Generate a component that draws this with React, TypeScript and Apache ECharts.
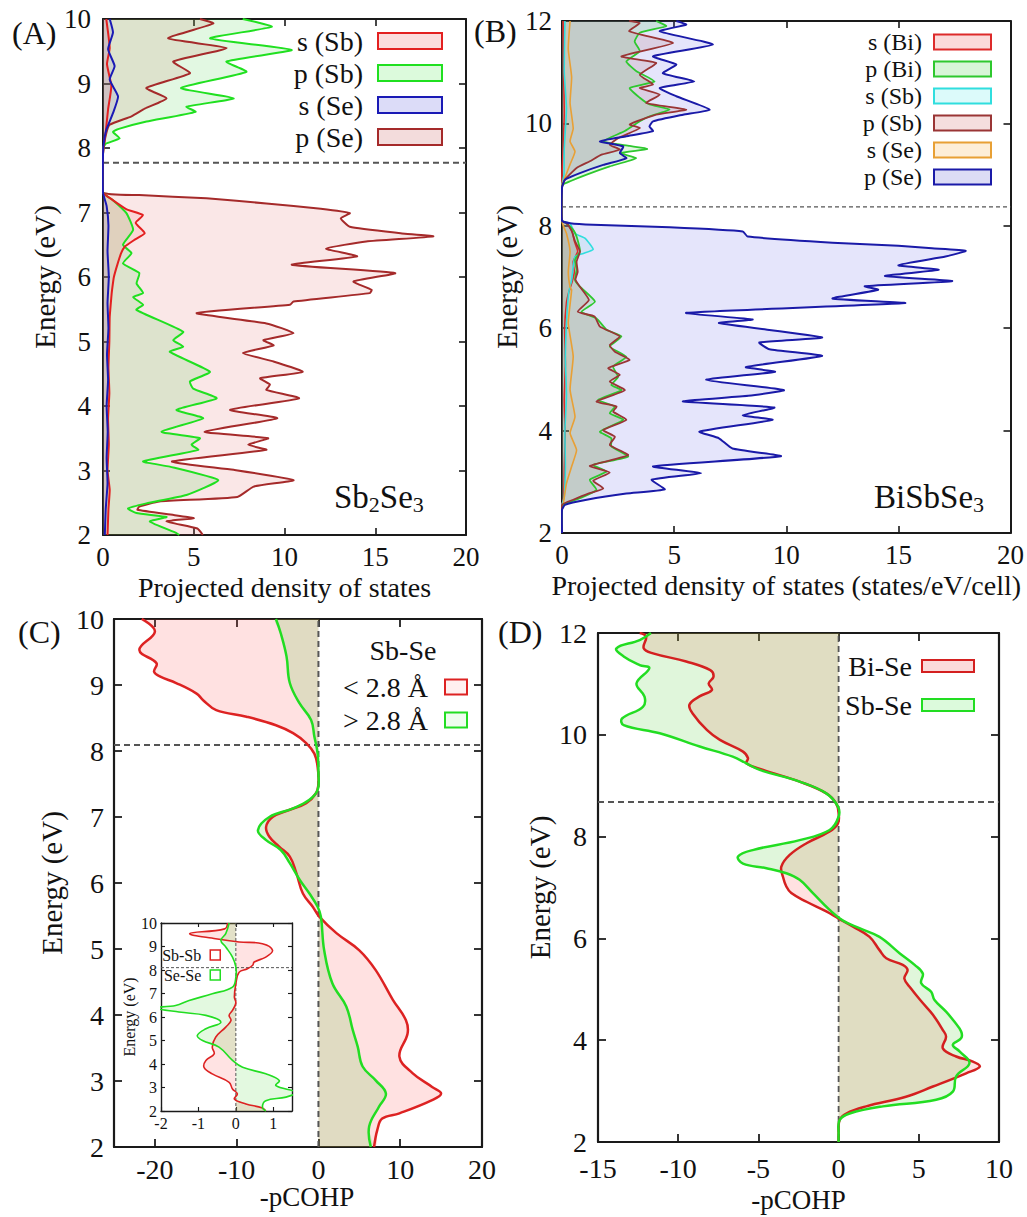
import React, { useEffect, useRef } from 'react';
import * as echarts from 'echarts';

const FONT = "'Liberation Serif', 'Times New Roman', serif";

type Pt = [number, number];

// ---------- Panel A : Sb2Se3 PDOS  [dos, energy] ----------
const A_sSb: Pt[] = [[0.18,10],[0.37,9.55],[0.22,9.3],[0.46,8.96],[0.28,8.6],[0.15,8.25],[0.04,8.02],[0,7.9],[0,7.31],[0.5,7.2],[1.3,7.05],[2.2,6.96],[1.8,6.84],[2.3,6.68],[1.7,6.57],[1.2,6.47],[1.0,6.37],[0.8,6.2],[0.6,6.0],[0.5,5.8],[0.46,5.69],[0.37,5.38],[0.35,5.0],[0.3,4.6],[0.35,4.2],[0.28,3.8],[0.32,3.4],[0.25,3.0],[0.37,2.7],[0.3,2.4],[0.25,2.0]];
const A_pSb: Pt[] = [[7.7,10],[9.3,9.88],[5.9,9.7],[10.4,9.52],[6.8,9.34],[7.9,9.18],[4.3,8.93],[7.2,8.77],[4.6,8.64],[5.1,8.56],[2.4,8.41],[0.92,8.3],[0.55,8.25],[0.92,8.15],[0.18,8.07],[0.04,8.02],[0,7.9],[0,7.31],[0.55,7.19],[1.29,6.99],[1.66,6.73],[1.1,6.5],[1.57,6.37],[1.1,6.21],[2.0,6.06],[1.85,5.9],[2.21,5.75],[1.66,5.69],[2.21,5.57],[1.84,5.49],[4.42,5.15],[3.87,5.02],[4.42,4.92],[3.68,4.84],[5.89,4.53],[4.79,4.38],[4.97,4.27],[6.26,4.12],[4.05,3.94],[5.52,3.81],[3.22,3.6],[5.34,3.5],[4.88,3.4],[5.25,3.32],[2.21,3.14],[3.68,3.06],[6.35,2.85],[4.6,2.62],[2.39,2.49],[1.38,2.41],[1.84,2.34],[3.5,2.28],[2.58,2.21],[4.05,2.03],[4.2,2.0]];
const A_sSe: Pt[] = [[0.37,10],[0.55,9.79],[0.28,9.53],[0.64,9.27],[0.37,9.06],[0.83,8.8],[0.55,8.54],[0.18,8.28],[0.04,8.07],[0,7.9],[0,7.31],[0.2,7.1],[0.3,6.8],[0.25,6.4],[0.32,6.0],[0.25,5.6],[0.3,5.2],[0.22,4.8],[0.28,4.4],[0.2,4.0],[0.26,3.6],[0.2,3.2],[0.25,2.8],[0.15,2.4],[0.1,2.0]];
const A_pSe: Pt[] = [[5.34,10],[6.08,9.93],[3.59,9.7],[6.81,9.55],[3.87,9.34],[4.79,9.16],[2.39,8.93],[3.5,8.77],[2.3,8.61],[1.57,8.49],[0.37,8.36],[0.18,8.23],[0.04,8.02],[0,7.9],[0,7.31],[2.0,7.27],[5.7,7.22],[9.0,7.14],[12.0,7.06],[13.6,6.99],[13.1,6.91],[13.6,6.78],[16.4,6.68],[18.2,6.63],[14.5,6.55],[12.3,6.44],[14.0,6.32],[10.4,6.19],[16.1,6.06],[13.8,5.93],[14.8,5.8],[14.7,5.75],[10.5,5.62],[10.3,5.57],[5.16,5.44],[9.0,5.28],[10.5,5.13],[8.84,5.02],[9.4,4.94],[7.7,4.82],[9.4,4.69],[11.0,4.53],[8.66,4.43],[9.2,4.33],[9.0,4.25],[10.8,4.12],[7.0,3.94],[9.6,3.81],[5.6,3.6],[9.1,3.5],[8.0,3.4],[9.0,3.32],[3.8,3.14],[7.2,3.01],[10.5,2.85],[8.3,2.75],[7.4,2.59],[3.1,2.52],[2.0,2.44],[1.9,2.39],[3.9,2.31],[5.0,2.26],[3.5,2.21],[5.2,2.1],[5.5,2.0]];
const FERMI_A = 7.77;

// ---------- Panel B : BiSbSe3 PDOS ----------
const B_sBi: Pt[] = [[0.05,12],[0.08,10.8],[0.1,10.2],[0.05,9.5],[0,9.0],[0,8.1],[0.2,8.05],[0.45,7.9],[0.55,7.7],[0.7,7.5],[0.5,7.3],[0.55,7.1],[0.45,6.9],[0.3,6.7],[0.2,6.5],[0.12,6.0],[0.15,5.3],[0.1,4.6],[0.14,3.9],[0.1,3.2],[0.08,2.7],[0,2.55],[0,2.0]];
const B_pBi: Pt[] = [[4.2,12],[4.65,11.9],[3.47,11.77],[3.24,11.6],[3.47,11.41],[2.87,11.21],[3.32,11.02],[4.13,10.82],[3.02,10.69],[3.47,10.5],[3.91,10.37],[4.8,10.27],[3.91,10.14],[3.47,10.04],[2.8,9.85],[1.84,9.65],[3.02,9.56],[3.8,9.5],[2.6,9.42],[3.3,9.32],[2.13,9.16],[1.1,9.0],[0.36,8.87],[0.03,8.8],[0,8.7],[0,8.1],[0.2,8.05],[0.5,7.92],[0.65,7.79],[0.8,7.5],[0.58,7.33],[0.65,7.14],[0.58,6.94],[0.8,6.81],[1.47,6.52],[0.87,6.32],[1.54,6.19],[1.99,5.97],[2.65,5.84],[2.13,5.64],[2.87,5.44],[2.28,5.25],[2.5,5.05],[2.2,4.89],[2.65,4.79],[1.61,4.6],[2.36,4.47],[2.13,4.34],[2.73,4.21],[1.69,3.98],[2.2,3.85],[2.2,3.69],[2.95,3.49],[1.39,3.33],[1.99,3.2],[1.24,3.04],[1.54,2.84],[0.8,2.68],[0.06,2.55],[0,2.45],[0,2.0]];
const B_sSb: Pt[] = [[0.13,12],[0.1,11],[0.2,10.3],[0.1,9.5],[0.09,9.0],[0,8.8],[0,8.1],[0.36,8.05],[0.58,7.85],[1.02,7.76],[1.39,7.54],[0.95,7.46],[0.58,7.4],[0.5,7.2],[0.43,6.94],[0.3,6.7],[0.2,6.1],[0.15,5.4],[0.2,4.7],[0.13,4.0],[0.15,3.3],[0.1,2.7],[0,2.55],[0,2.0]];
const B_pSb: Pt[] = [[3.0,12],[3.47,11.96],[3.0,11.8],[4.95,11.57],[2.65,11.31],[4.2,11.18],[3.47,10.95],[4.06,10.76],[3.47,10.69],[4.36,10.56],[3.76,10.4],[5.54,10.27],[4.2,10.17],[3.02,9.98],[3.47,9.91],[2.5,9.71],[2.13,9.58],[2.58,9.49],[1.76,9.39],[1.24,9.26],[0.65,9.13],[0.13,8.9],[0,8.75],[0,8.1],[0.2,8.05],[0.43,7.9],[0.58,7.7],[0.8,7.5],[0.65,7.3],[0.7,7.1],[0.6,6.95],[0.8,6.81],[1.2,6.55],[0.7,6.32],[1.45,6.23],[1.69,6.03],[2.58,5.84],[2.13,5.67],[2.36,5.54],[3.02,5.38],[2.06,5.22],[2.58,5.09],[2.13,4.96],[2.8,4.79],[1.54,4.57],[2.43,4.47],[2.28,4.37],[2.87,4.21],[1.84,4.01],[2.36,3.88],[2.13,3.72],[2.95,3.52],[1.24,3.31],[2.13,3.18],[1.39,3.02],[1.84,2.87],[1.17,2.77],[0.5,2.65],[0,2.55],[0,2.0]];
const B_sSe: Pt[] = [[0.36,12],[0.28,11.45],[0.43,10.9],[0.36,10.4],[0.5,9.9],[0.36,9.65],[0.58,9.45],[0.36,9.2],[0.13,8.94],[0,8.8],[0,8.1],[0.06,8.0],[0.2,7.85],[0.36,7.5],[0.28,7.1],[0.36,6.8],[0.43,6.75],[0.28,6.1],[0.5,5.45],[0.36,4.8],[0.58,4.27],[0.36,3.95],[0.65,3.62],[0.43,3.3],[0.2,2.97],[0.06,2.58],[0,2.45],[0,2.0]];
const B_pSe: Pt[] = [[5.1,12],[5.54,11.93],[4.36,11.8],[6.73,11.54],[4.06,11.31],[5.1,11.15],[4.5,10.98],[5.9,10.82],[4.36,10.69],[5.1,10.53],[6.58,10.27],[5.4,10.17],[4.06,10.04],[3.9,9.94],[4.06,9.85],[2.87,9.75],[1.69,9.65],[2.73,9.55],[2.58,9.42],[2.87,9.32],[1.84,9.19],[0.8,9.03],[0.13,8.9],[0,8.74],[0,8.1],[0.36,8.05],[1.39,8.02],[4.8,7.97],[8.06,7.89],[8.28,7.79],[12.06,7.67],[15.0,7.61],[16.5,7.56],[18.0,7.51],[17.1,7.4],[15.0,7.23],[16.8,7.14],[14.4,7.02],[17.4,6.92],[13.5,6.82],[14.1,6.75],[12.06,6.58],[15.3,6.49],[5.54,6.3],[8.5,6.17],[7.0,6.1],[11.6,5.82],[8.8,5.72],[9.25,5.59],[11.6,5.46],[8.2,5.24],[9.5,5.15],[6.43,4.99],[9.9,4.79],[8.3,4.68],[5.39,4.57],[9.47,4.45],[8.06,4.3],[9.39,4.21],[6.13,3.98],[7.0,3.85],[7.6,3.65],[9.76,3.5],[4.06,3.3],[6.2,3.17],[4.0,3.04],[4.58,2.85],[2.87,2.77],[1.1,2.65],[0.13,2.55],[0,2.45],[0,2.0]];
const FERMI_B = 8.37;

// ---------- Panel C : Sb-Se pCOHP  [-pCOHP, energy] ----------
const C_lt: Pt[] = [[-21.6,10],[-20.0,9.81],[-21.9,9.53],[-19.8,9.33],[-20.1,9.2],[-19.4,9.13],[-17.4,9.03],[-14.9,8.87],[-14.1,8.77],[-12.5,8.62],[-8.8,8.52],[-5.2,8.39],[-3.1,8.27],[-1.5,8.12],[-0.5,7.96],[-0.1,7.76],[0,7.51],[-0.3,7.36],[-1.5,7.21],[-3.5,7.11],[-5.6,7.0],[-6.4,6.85],[-6.0,6.7],[-4.8,6.55],[-3.5,6.4],[-2.7,6.15],[-1.9,5.84],[-0.7,5.64],[0.1,5.49],[2.2,5.24],[5.0,4.98],[7.0,4.68],[9.1,4.23],[10.7,3.92],[10.9,3.72],[9.9,3.37],[11.5,3.12],[13.9,2.91],[15.0,2.81],[13.9,2.71],[9.9,2.51],[7.8,2.43],[7.2,2.26],[6.8,2.0]];
const C_gt: Pt[] = [[-5.2,10],[-4.6,9.78],[-3.9,9.43],[-3.5,9.03],[-2.3,8.72],[-0.9,8.47],[-0.5,8.22],[-0.1,7.96],[0,7.66],[-0.1,7.41],[-1.1,7.26],[-3.1,7.13],[-6.0,7.0],[-7.4,6.8],[-6.4,6.65],[-4.6,6.5],[-3.5,6.3],[-2.3,6.05],[-1.1,5.84],[-0.1,5.64],[0.3,5.49],[0.7,4.98],[1.7,4.48],[3.4,4.13],[4.2,3.77],[4.8,3.52],[5.4,3.22],[7.0,3.01],[8.25,2.81],[7.4,2.61],[6.2,2.31],[6.4,2.0]];
const FERMI_C = 8.09;

// ---------- Inset of C ----------
const I_SbSb: Pt[] = [[-0.22,10],[-0.3,9.75],[-1.23,9.55],[-0.54,9.33],[0.09,9.19],[0.71,9.12],[0.98,8.84],[0.8,8.55],[0.49,8.34],[0.45,8.2],[0.31,8.05],[0.09,7.91],[0,7.41],[-0.04,6.85],[0,6.6],[-0.09,6.28],[-0.18,6.07],[-0.13,5.85],[-0.27,5.57],[-0.54,5.14],[-0.63,4.72],[-0.58,4.43],[-0.8,4.15],[-0.85,3.86],[-0.63,3.58],[-0.18,3.22],[-0.09,2.94],[0.04,2.73],[-0.04,2.51],[0.27,2.3],[0.71,2.13],[0.8,2.0]];
const I_SeSe: Pt[] = [[-0.18,10],[-0.27,9.55],[-0.4,9.26],[-0.27,8.98],[-0.09,8.55],[0,8.13],[0,7.7],[-0.09,7.27],[-0.63,6.99],[-1.25,6.7],[-1.61,6.49],[-2.15,6.39],[-1.52,6.21],[-0.8,6.07],[-0.4,5.78],[-0.8,5.5],[-1.03,5.21],[-0.89,5.0],[-0.45,4.72],[-0.09,4.15],[0.18,3.86],[0.8,3.58],[1.16,3.3],[1.07,3.08],[1.6,2.8],[1.34,2.59],[0.8,2.44],[0.71,2.16],[0.8,2.0]];
const FERMI_I = 8.1;

// ---------- Panel D : BiSbSe3 pCOHP ----------
const D_BiSe: Pt[] = [[-12.4,12],[-12.0,11.93],[-12.15,11.7],[-11.57,11.6],[-9.5,11.44],[-8.0,11.27],[-7.8,11.14],[-8.1,11.01],[-7.9,10.88],[-8.7,10.75],[-9.3,10.59],[-9.1,10.42],[-8.2,10.09],[-7.4,9.9],[-5.96,9.67],[-5.65,9.54],[-5.75,9.44],[-4.7,9.31],[-2.43,9.08],[-0.77,8.85],[-0.15,8.65],[0,8.46],[-0.04,8.26],[-0.56,8.1],[-2.0,7.87],[-3.05,7.64],[-3.57,7.41],[-3.47,7.21],[-3.26,7.02],[-2.95,6.89],[-2.0,6.72],[-0.77,6.53],[0,6.39],[0.9,6.23],[1.93,6.03],[2.55,5.77],[2.97,5.61],[4.0,5.48],[4.3,5.38],[4.1,5.21],[4.5,5.02],[5.25,4.73],[5.88,4.5],[6.5,4.2],[6.7,4.07],[6.5,3.84],[7.33,3.68],[8.37,3.58],[8.8,3.48],[7.95,3.35],[5.88,3.09],[4.2,2.89],[1.72,2.7],[0.48,2.56],[0.06,2.43],[0,2.17],[0,2.0]];
const D_SbSe: Pt[] = [[-11.7,12],[-12.4,11.86],[-13.85,11.7],[-13.4,11.54],[-12.4,11.37],[-11.8,11.31],[-12.6,11.01],[-12.1,10.75],[-12.2,10.55],[-13.5,10.32],[-13.4,10.19],[-11.15,10.03],[-8.66,9.77],[-6.6,9.57],[-5.75,9.44],[-4.92,9.31],[-2.43,9.08],[-0.77,8.85],[-0.04,8.59],[0,8.39],[-0.56,8.13],[-2.43,7.93],[-5.3,7.74],[-6.27,7.61],[-5.96,7.47],[-4.5,7.38],[-3.26,7.28],[-2.43,7.15],[-1.6,6.89],[-0.56,6.56],[0.27,6.35],[1.3,6.2],[2.55,6.03],[3.8,5.71],[4.74,5.48],[5.25,5.31],[5.15,5.12],[5.77,4.95],[5.98,4.79],[6.7,4.56],[7.2,4.37],[7.64,4.17],[7.64,4.04],[7.12,3.91],[7.54,3.78],[8.16,3.55],[7.33,3.29],[7.12,2.99],[6.08,2.83],[2.76,2.7],[0.69,2.56],[0.06,2.43],[0,2.17],[0,2.0]];
const FERMI_D = 8.68;

// ---------- tick values ----------
const C_X_TICKS = [-20, -10, 0, 10, 20];
const I_X_TICKS = [-2, -1, 0, 1];

const legendName = (n: string) => n.split('|')[1];

function fillSeries(name: string, data: Pt[], gi: number, fill: string, smooth: number) {
  return {
    type: 'custom',
    name: name + ' fill',
    xAxisIndex: gi * 2,
    yAxisIndex: gi * 2,
    z: 2,
    silent: true,
    data: [[0, 0]],
    renderItem: (params: any, api: any) => {
      const cs = params.coordSys;
      const pts = data.map((p) => api.coord(p));
      const top = api.coord([0, data[0][1]]);
      const bot = api.coord([0, data[data.length - 1][1]]);
      const h = bot[1] - top[1];
      const botE = [bot[0], bot[1] - h * 0.01];
      const topE = [top[0], top[1] + h * 0.01];
      return {
        type: 'group',
        clipPath: { type: 'rect', shape: { x: cs.x, y: cs.y, width: cs.width, height: cs.height } },
        children: [
          { type: 'polygon', shape: { points: [top, ...pts, bot, botE, topE], smooth }, style: { fill, stroke: 'none' } },
        ],
      };
    },
  };
}

function strokeSeries(name: string, data: Pt[], gi: number, color: string, width: number, smooth: number) {
  return {
    type: 'custom',
    name,
    xAxisIndex: gi * 2,
    yAxisIndex: gi * 2,
    z: 4,
    silent: true,
    itemStyle: { color },
    data: [[0, 0]],
    renderItem: (params: any, api: any) => {
      const cs = params.coordSys;
      const pts = data.map((p) => api.coord(p));
      return {
        type: 'group',
        clipPath: { type: 'rect', shape: { x: cs.x - 1, y: cs.y - 1, width: cs.width + 2, height: cs.height + 2 } },
        children: [
          { type: 'polyline', shape: { points: pts, smooth }, style: { stroke: color, lineWidth: width, fill: 'none', lineJoin: 'round' } },
        ],
      };
    },
  };
}

function dashSeries(data: Pt[], gi: number, width: number, dash: number[]) {
  return {
    type: 'line',
    xAxisIndex: gi * 2,
    yAxisIndex: gi * 2,
    data,
    symbol: 'none',
    silent: true,
    z: 3,
    lineStyle: { color: '#555', width, type: dash },
  };
}

function axisSet(gi: number, o: any) {
  const line = { show: true, onZero: false, lineStyle: { color: '#1a1a1a', width: o.lw } };
  const tick = { show: true, inside: true, length: o.tl, lineStyle: { color: '#1a1a1a', width: o.lw * 0.8 } };
  const xTick: any = { ...tick };
  const xLabel: any = { fontFamily: FONT, fontSize: o.fs, color: '#111', margin: o.xm };
  if (o.xCustom) {
    xTick.customValues = o.xCustom;
    xLabel.customValues = o.xCustom;
  }
  const xb = {
    type: 'value', gridIndex: gi, position: 'bottom', min: o.xmin, max: o.xmax, interval: o.xi,
    axisLine: line, axisTick: xTick, axisLabel: xLabel, splitLine: { show: false },
    name: o.xName, nameLocation: 'middle', nameGap: o.xng,
    nameTextStyle: { fontFamily: FONT, fontSize: o.nfs, color: '#111', padding: o.xnp || 0 },
  };
  const xt = {
    type: 'value', gridIndex: gi, position: 'top', min: o.xmin, max: o.xmax, interval: o.xi,
    axisLine: line, axisTick: xTick, axisLabel: { show: false }, splitLine: { show: false },
  };
  const yl = {
    type: 'value', gridIndex: gi, position: 'left', min: o.ymin, max: o.ymax, interval: o.yi,
    axisLine: line, axisTick: tick,
    axisLabel: { fontFamily: FONT, fontSize: o.fs, color: '#111', margin: o.ym },
    splitLine: { show: false },
    name: o.yName, nameLocation: 'middle', nameGap: o.yng,
    nameTextStyle: { fontFamily: FONT, fontSize: o.ynfs || o.nfs, color: '#111' },
  };
  const yr = {
    type: 'value', gridIndex: gi, position: 'right', min: o.ymin, max: o.ymax, interval: o.yi,
    axisLine: line, axisTick: tick, axisLabel: { show: false }, splitLine: { show: false },
  };
  return { x: [xb, xt], y: [yl, yr] };
}

function legendItem(name: string, fill: string, border: string, bw = 2) {
  return { name, itemStyle: { color: fill, borderColor: border, borderWidth: bw } };
}

export default function App() {
  const ref = useRef<HTMLDivElement>(null);

  useEffect(() => {
    if (!ref.current) return;
    const chart = echarts.init(ref.current, undefined, { renderer: 'svg' });

    const aA = axisSet(0, { xmin: 0, xmax: 20, xi: 5, ymin: 2, ymax: 10, yi: 1, fs: 27, nfs: 28, ynfs: 29, lw: 2, tl: 7, xm: 8, ym: 12, xName: 'Projected density of states', xng: 38, yName: 'Energy (eV)', yng: 44 });
    const aB = axisSet(1, { xmin: 0, xmax: 20, xi: 5, ymin: 2, ymax: 12, yi: 2, fs: 27, nfs: 28, ynfs: 29, lw: 2, tl: 7, xm: 8, ym: 10, xName: 'Projected density of states (states/eV/cell)', xng: 38, yName: 'Energy (eV)', yng: 36 });
    const aC = axisSet(2, { xmin: -25, xmax: 20, xi: 5, xCustom: C_X_TICKS, ymin: 2, ymax: 10, yi: 1, fs: 28, nfs: 27, ynfs: 29, lw: 2.2, tl: 8, xm: 8, ym: 10, xName: '-pCOHP', xng: 36, xnp: [0, 0, 0, 18], yName: 'Energy (eV)', yng: 48 });
    const aD = axisSet(3, { xmin: -15, xmax: 10, xi: 5, ymin: 2, ymax: 12, yi: 2, fs: 28, nfs: 27, ynfs: 29, lw: 2.2, tl: 8, xm: 12, ym: 11, xName: '-pCOHP', xng: 44, yName: 'Energy (eV)', yng: 44 });
    const aI = axisSet(4, { xmin: -2, xmax: 1.5, xi: 0.5, xCustom: I_X_TICKS, ymin: 2, ymax: 10, yi: 1, fs: 16, nfs: 16, lw: 1.4, tl: 4, xm: 4, ym: 4, xName: '', xng: 20, yName: 'Energy (eV)', yng: 19 });

    const xAxis = [...aA.x, ...aB.x, ...aC.x, ...aD.x, ...aI.x];
    const yAxis = [...aA.y, ...aB.y, ...aC.y, ...aD.y, ...aI.y];

    const A = {
      sSb: { n: 'A|s (Sb)', c: '#e32020', f: 'rgba(255,60,60,0.10)', lf: '#fbdcdc' },
      pSb: { n: 'A|p (Sb)', c: '#20e020', f: 'rgba(60,210,60,0.15)', lf: '#dcfadc' },
      sSe: { n: 'A|s (Se)', c: '#1a1ab5', f: 'rgba(60,60,230,0.10)', lf: '#dcdcf8' },
      pSe: { n: 'A|p (Se)', c: '#a52a2a', f: 'rgba(215,70,70,0.13)', lf: '#f3dcdc' },
    };
    const B = {
      sBi: { n: 'B|s (Bi)', c: '#dd2a2a', f: 'rgba(230,60,60,0.08)', lf: '#fbdada' },
      pBi: { n: 'B|p (Bi)', c: '#2ec82e', f: 'rgba(60,190,60,0.15)', lf: '#d8f5d8' },
      sSb: { n: 'B|s (Sb)', c: '#30dede', f: 'rgba(60,220,220,0.10)', lf: '#dcfafa' },
      pSb: { n: 'B|p (Sb)', c: '#9a3535', f: 'rgba(150,50,50,0.12)', lf: '#f5dede' },
      sSe: { n: 'B|s (Se)', c: '#e8a035', f: 'rgba(240,170,60,0.10)', lf: '#fdeed8' },
      pSe: { n: 'B|p (Se)', c: '#1a1aa8', f: 'rgba(80,80,230,0.15)', lf: '#dcdcf5' },
    };

    const sA = 0.15, sB = 0.15, sC = 0.4;

    const series: any[] = [
      // Panel A
      fillSeries(A.pSe.n, A_pSe, 0, A.pSe.f, sA),
      fillSeries(A.pSb.n, A_pSb, 0, A.pSb.f, sA),
      fillSeries(A.sSb.n, A_sSb, 0, A.sSb.f, sA),
      fillSeries(A.sSe.n, A_sSe, 0, A.sSe.f, sA),
      dashSeries([[0, FERMI_A], [20, FERMI_A]], 0, 2, [6, 4]),
      strokeSeries(A.pSe.n, A_pSe, 0, A.pSe.c, 2, sA),
      strokeSeries(A.pSb.n, A_pSb, 0, A.pSb.c, 2, sA),
      strokeSeries(A.sSb.n, A_sSb, 0, A.sSb.c, 2, sA),
      strokeSeries(A.sSe.n, A_sSe, 0, A.sSe.c, 2, sA),
      // Panel B
      fillSeries(B.pSe.n, B_pSe, 1, B.pSe.f, sB),
      fillSeries(B.pSb.n, B_pSb, 1, B.pSb.f, sB),
      fillSeries(B.pBi.n, B_pBi, 1, B.pBi.f, sB),
      fillSeries(B.sSe.n, B_sSe, 1, B.sSe.f, sB),
      fillSeries(B.sSb.n, B_sSb, 1, B.sSb.f, sB),
      fillSeries(B.sBi.n, B_sBi, 1, B.sBi.f, sB),
      dashSeries([[0, FERMI_B], [20, FERMI_B]], 1, 1.2, [4, 3]),
      strokeSeries(B.sBi.n, B_sBi, 1, B.sBi.c, 1.6, sB),
      strokeSeries(B.sSb.n, B_sSb, 1, B.sSb.c, 1.6, sB),
      strokeSeries(B.sSe.n, B_sSe, 1, B.sSe.c, 1.6, sB),
      strokeSeries(B.pBi.n, B_pBi, 1, B.pBi.c, 1.8, sB),
      strokeSeries(B.pSb.n, B_pSb, 1, B.pSb.c, 1.8, sB),
      strokeSeries(B.pSe.n, B_pSe, 1, B.pSe.c, 2, sB),
      // Panel C
      fillSeries('C|< 2.8 Å', C_lt, 2, 'rgba(255,80,80,0.17)', sC),
      fillSeries('C|> 2.8 Å', C_gt, 2, 'rgba(70,190,40,0.17)', sC),
      dashSeries([[-25, FERMI_C], [20, FERMI_C]], 2, 2, [6, 4]),
      dashSeries([[0, 2], [0, 10]], 2, 2, [6, 4]),
      strokeSeries('C|< 2.8 Å', C_lt, 2, '#dd2222', 2.5, sC),
      strokeSeries('C|> 2.8 Å', C_gt, 2, '#22dd22', 2.5, sC),
      // Panel D
      fillSeries('D|Bi-Se', D_BiSe, 3, 'rgba(255,80,80,0.17)', sC),
      fillSeries('D|Sb-Se', D_SbSe, 3, 'rgba(70,200,40,0.17)', sC),
      dashSeries([[-15, FERMI_D], [10, FERMI_D]], 3, 1.8, [6, 4]),
      dashSeries([[0, 2], [0, 12]], 3, 1.8, [6, 4]),
      strokeSeries('D|Bi-Se', D_BiSe, 3, '#d42020', 2.5, sC),
      strokeSeries('D|Sb-Se', D_SbSe, 3, '#22dd22', 2.5, sC),
      // Inset
      fillSeries('I|Sb-Sb', I_SbSb, 4, 'rgba(255,80,80,0.16)', sC),
      fillSeries('I|Se-Se', I_SeSe, 4, 'rgba(80,220,60,0.16)', sC),
      dashSeries([[-2, FERMI_I], [1.5, FERMI_I]], 4, 1, [3, 2]),
      dashSeries([[0, 2], [0, 10]], 4, 1, [3, 2]),
      strokeSeries('I|Sb-Sb', I_SbSb, 4, '#dd2222', 1.6, sC),
      strokeSeries('I|Se-Se', I_SeSe, 4, '#22dd22', 1.6, sC),
    ];

    const lgBase = { orient: 'vertical', align: 'right', icon: 'rect', padding: 0, selectedMode: false, formatter: legendName };

    const option: any = {
      animation: false,
      backgroundColor: '#ffffff',
      grid: [
        { left: 103, top: 19, width: 363, height: 516 },
        { left: 562, top: 21, width: 450, height: 512 },
        { left: 114, top: 619, width: 368, height: 528 },
        { left: 598, top: 633, width: 401, height: 509 },
        { left: 161, top: 923, width: 131, height: 188 },
      ],
      xAxis,
      yAxis,
      legend: [
        {
          ...lgBase, right: 584, top: 27, itemWidth: 64, itemHeight: 16, itemGap: 4,
          textStyle: { fontFamily: FONT, fontSize: 28, color: '#111', padding: [0, 10, 0, 0] },
          data: [legendItem(A.sSb.n, A.sSb.lf, A.sSb.c), legendItem(A.pSb.n, A.pSb.lf, A.pSb.c), legendItem(A.sSe.n, A.sSe.lf, A.sSe.c), legendItem(A.pSe.n, A.pSe.lf, A.pSe.c)],
        },
        {
          ...lgBase, right: 35, top: 30, itemWidth: 57, itemHeight: 15, itemGap: 3,
          textStyle: { fontFamily: FONT, fontSize: 24, color: '#111', padding: [0, 7, 0, 0] },
          data: [legendItem(B.sBi.n, B.sBi.lf, B.sBi.c), legendItem(B.pBi.n, B.pBi.lf, B.pBi.c), legendItem(B.sSb.n, B.sSb.lf, B.sSb.c), legendItem(B.pSb.n, B.pSb.lf, B.pSb.c), legendItem(B.sSe.n, B.sSe.lf, B.sSe.c), legendItem(B.pSe.n, B.pSe.lf, B.pSe.c)],
        },
        {
          ...lgBase, right: 559, top: 673, itemWidth: 22, itemHeight: 15, itemGap: 5,
          textStyle: { fontFamily: FONT, fontSize: 28, color: '#111', padding: [0, 12, 0, 0] },
          data: [legendItem('C|< 2.8 Å', '#fff0f0', '#dd2222'), legendItem('C|> 2.8 Å', '#effdef', '#22dd22')],
        },
        {
          ...lgBase, right: 52, top: 652, itemWidth: 52, itemHeight: 12, itemGap: 11,
          textStyle: { fontFamily: FONT, fontSize: 28, color: '#111', padding: [0, 5, 0, 0] },
          data: [legendItem('D|Bi-Se', '#fbdada', '#d42020'), legendItem('D|Sb-Se', '#dcfadc', '#22dd22')],
        },
        {
          ...lgBase, right: 806, top: 947, itemWidth: 10, itemHeight: 10, itemGap: 4,
          textStyle: { fontFamily: FONT, fontSize: 16, color: '#111', padding: [0, 4, 0, 0] },
          data: [legendItem('I|Sb-Sb', '#ffffff', '#dd2222', 1.5), legendItem('I|Se-Se', '#ffffff', '#22dd22', 1.5)],
        },
      ],
      graphic: [
        { type: 'text', x: 12, y: 17, z: 10, style: { text: '(A)', fontFamily: FONT, fontSize: 32, fill: '#111' } },
        { type: 'text', x: 474, y: 15, z: 10, style: { text: '(B)', fontFamily: FONT, fontSize: 32, fill: '#111' } },
        { type: 'text', x: 18, y: 616, z: 10, style: { text: '(C)', fontFamily: FONT, fontSize: 32, fill: '#111' } },
        { type: 'text', x: 498, y: 616, z: 10, style: { text: '(D)', fontFamily: FONT, fontSize: 32, fill: '#111' } },
        {
          type: 'text', x: 334, y: 479, z: 10,
          style: {
            text: '{m|Sb}{s|2}{m|Se}{s|3}',
            rich: {
              m: { fontFamily: FONT, fontSize: 33, fill: '#111', lineHeight: 36 },
              s: { fontFamily: FONT, fontSize: 22, fill: '#111', lineHeight: 14, verticalAlign: 'bottom' },
            },
          },
        },
        {
          type: 'text', x: 874, y: 479, z: 10,
          style: {
            text: '{m|BiSbSe}{s|3}',
            rich: {
              m: { fontFamily: FONT, fontSize: 33, fill: '#111', lineHeight: 36 },
              s: { fontFamily: FONT, fontSize: 22, fill: '#111', lineHeight: 14, verticalAlign: 'bottom' },
            },
          },
        },
        { type: 'text', x: 403, y: 650, z: 10, style: { text: 'Sb-Se', fontFamily: FONT, fontSize: 28, fill: '#111', align: 'center', verticalAlign: 'middle' } },
      ],
      series,
    };

    chart.setOption(option);
    return () => chart.dispose();
  }, []);

  return <div ref={ref} style={{ position: 'absolute', left: 0, top: 0, width: 1027, height: 1217 }} />;
}
